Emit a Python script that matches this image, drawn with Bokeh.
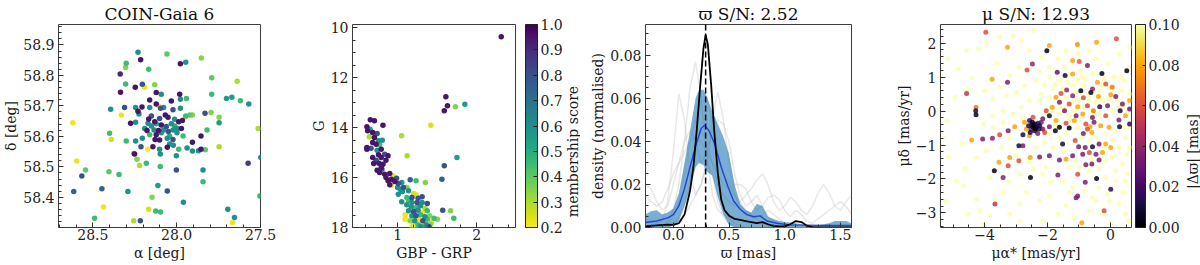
import math
from bokeh.plotting import figure
from bokeh.layouts import row
from bokeh.core.properties import value
from bokeh.models import (Range1d, LinearColorMapper, ColorBar, FixedTicker, SingleIntervalTicker,
                          PrintfTickFormatter, CustomJSTickFormatter, Span, ColumnDataSource)
from bokeh.palettes import Viridis256, Inferno256
from bokeh.embed import file_html
from bokeh.resources import INLINE

# ---------------- Panel 1: sky positions ----------------
ra1 = [28.231, 28.058, 28.215, 28.301, 28.305, 27.946, 27.978, 27.853, 28.167, 28.337,
       27.791, 27.639, 28.305, 28.205, 28.247, 28.191, 28.131, 28.335, 28.122, 28.092,
       27.982, 27.791, 27.703, 27.671, 27.620, 27.570, 27.942, 27.978, 28.394, 28.330,
       28.311, 28.245, 28.207, 28.161, 28.122, 28.161, 28.096, 28.078, 28.106, 28.032,
       28.022, 27.978, 28.231, 28.225, 27.946, 27.922, 27.906, 27.831, 27.795, 27.747,
       27.747, 27.819, 27.948, 28.275, 28.245, 28.167, 28.151, 28.131, 28.102, 28.068,
       28.052, 28.012, 27.988, 27.966, 28.171, 28.151, 28.122, 28.092, 28.062, 28.032,
       28.012, 27.998, 27.972, 28.191, 28.177, 28.135, 28.108, 28.078, 28.050, 28.022,
       27.998, 28.161, 28.122, 28.092, 28.042, 27.962, 28.205, 28.129, 28.102, 28.056,
       28.022, 28.245, 28.301, 28.400, 28.390, 28.213, 28.142, 28.102, 28.056, 28.042,
       28.020, 27.988, 27.938, 27.906, 27.870, 27.855, 27.829, 27.906, 27.855, 28.173,
       28.251, 28.098, 28.002, 28.255, 28.237, 28.221, 28.181, 28.098, 28.002, 27.843,
       27.843, 27.574, 27.498, 28.596, 28.544, 28.566, 28.404, 28.344, 28.620, 28.614,
       28.446, 28.291, 28.112, 28.056, 28.147, 27.960, 28.436, 28.167, 28.125, 28.096,
       28.490, 28.257, 28.217, 27.695, 27.655, 27.667, 27.504, 27.514, 27.747]
dec1 = [58.876, 58.870, 58.851, 58.840, 58.826, 58.843, 58.838, 58.857, 58.820, 58.805,
        58.792, 58.781, 58.772, 58.771, 58.761, 58.761, 58.769, 58.745, 58.744, 58.738,
        58.738, 58.738, 58.724, 58.728, 58.717, 58.706, 58.724, 58.722, 58.689, 58.670,
        58.695, 58.695, 58.696, 58.719, 58.706, 58.695, 58.692, 58.695, 58.699, 58.716,
        58.687, 58.692, 58.682, 58.673, 58.667, 58.670, 58.670, 58.676, 58.678, 58.663,
        58.645, 58.621, 58.663, 58.643, 58.646, 58.657, 58.667, 58.648, 58.659, 58.670,
        58.663, 58.656, 58.648, 58.652, 58.643, 58.634, 58.641, 58.637, 58.632, 58.641,
        58.634, 58.626, 58.626, 58.626, 58.619, 58.621, 58.619, 58.621, 58.616, 58.621,
        58.612, 58.605, 58.605, 58.612, 58.601, 58.601, 58.594, 58.590, 58.588, 58.594,
        58.590, 58.585, 58.585, 58.610, 58.590, 58.566, 58.566, 58.558, 58.564, 58.575,
        58.571, 58.558, 58.562, 58.552, 58.553, 58.558, 58.556, 58.581, 58.601, 58.558,
        58.542, 58.542, 58.536, 58.544, 58.525, 58.504, 58.512, 58.501, 58.490, 58.490,
        58.451, 58.512, 58.531, 58.519, 58.490, 58.470, 58.484, 58.475, 58.645, 58.419,
        58.428, 58.419, 58.439, 58.421, 58.400, 58.384, 58.368, 58.361, 58.355, 58.352,
        58.331, 58.323, 58.323, 58.361, 58.334, 58.317, 58.404, 58.626, 58.566]
score1 = [0.60, 0.40, 0.95, 0.45, 0.35, 0.60, 0.95, 0.35, 0.45, 0.90,
          0.40, 0.30, 0.45, 0.80, 0.95, 0.22, 0.35, 0.95, 0.95, 0.60,
          0.95, 0.45, 0.55, 0.55, 0.45, 0.60, 0.45, 0.60, 0.60, 0.22,
          0.80, 0.60, 0.95, 0.95, 0.95, 0.60, 0.80, 0.60, 0.20, 0.95,
          0.80, 0.60, 0.95, 0.60, 0.45, 0.40, 0.35, 0.80, 0.35, 0.35,
          0.55, 0.45, 0.20, 0.95, 0.60, 0.95, 0.80, 0.95, 0.80, 0.95,
          0.95, 0.60, 0.95, 0.95, 0.60, 0.60, 0.50, 0.95, 0.80, 0.60,
          0.50, 0.60, 0.95, 0.60, 0.95, 0.60, 0.95, 0.60, 0.80, 0.60,
          0.60, 0.45, 0.95, 0.60, 0.50, 0.45, 0.60, 0.95, 0.95, 0.60,
          0.80, 0.60, 0.45, 0.45, 0.25, 0.80, 0.95, 0.60, 0.95, 0.60,
          0.60, 0.45, 0.60, 0.60, 0.60, 0.95, 0.40, 0.95, 0.95, 0.20,
          0.95, 0.60, 0.60, 0.45, 0.35, 0.30, 0.45, 0.45, 0.80, 0.60,
          0.45, 0.85, 0.60, 0.22, 0.40, 0.80, 0.40, 0.45, 0.22, 0.75,
          0.75, 0.60, 0.55, 0.80, 0.35, 0.60, 0.22, 0.25, 0.45, 0.45,
          0.45, 0.30, 0.80, 0.60, 0.60, 0.22, 0.45, 0.30, 0.30]

# ---------------- Panel 2: CMD ----------------
bprp2 = [2.31, 1.61, 1.63, 1.59, 1.73, 1.85, 1.42, 1.05, 1.12, 1.75,
         1.59, 1.56, 1.35, 1.57, 1.67, 1.71, 0.655, 0.707, 0.815, 0.612,
         0.621, 0.651, 0.685, 0.741, 0.707, 0.642, 0.759, 0.806, 0.685, 0.728,
         0.772, 0.612, 0.664, 0.612, 0.741, 0.793, 0.759, 0.836, 0.879, 0.685,
         0.793, 0.728, 0.853, 0.698, 0.763, 0.815, 0.793, 0.741, 0.772, 0.836,
         0.901, 0.944, 0.802, 0.853, 0.922, 0.987, 0.879, 0.965, 1.009, 0.901,
         0.922, 1.052, 1.073, 1.000, 1.034, 1.116, 1.159, 1.233, 1.138, 1.203,
         1.233, 1.009, 1.060, 1.116, 1.181, 1.259, 1.310, 1.052, 1.138, 1.181,
         1.246, 1.116, 1.310, 1.375, 1.172, 1.233, 1.289, 1.345, 1.138, 1.203,
         1.259, 1.319, 1.375, 1.095, 1.181, 1.233, 1.289, 1.345, 1.405, 1.461,
         1.095, 1.159, 1.216, 1.267, 1.319, 1.375, 1.431, 1.203, 1.259, 1.310,
         1.362, 1.418, 1.233, 1.289, 1.345, 1.181, 1.397, 1.504]
gmag2 = [10.37, 12.77, 13.13, 13.33, 13.17, 13.07, 13.91, 14.33, 15.13, 15.20,
         15.53, 16.07, 16.20, 17.31, 17.33, 17.63, 13.69, 13.73, 13.91, 13.97,
         14.13, 14.07, 14.20, 14.24, 14.40, 14.37, 14.53, 14.51, 14.60, 14.67,
         14.69, 14.80, 14.83, 14.87, 14.91, 14.87, 15.09, 15.07, 15.13, 15.20,
         15.20, 15.31, 15.31, 15.44, 15.43, 15.47, 15.60, 15.71, 15.80, 15.87,
         15.84, 15.93, 15.67, 16.00, 16.07, 16.03, 16.13, 16.16, 16.24, 16.29,
         16.31, 16.20, 16.40, 16.40, 16.47, 16.40, 16.09, 16.13, 16.53, 16.64,
         16.69, 16.67, 16.56, 16.80, 16.80, 16.83, 16.77, 16.97, 16.91, 17.00,
         17.00, 17.09, 17.00, 17.04, 17.17, 17.20, 17.13, 17.23, 17.33, 17.36,
         17.31, 17.40, 17.33, 17.49, 17.53, 17.53, 17.49, 17.57, 17.53, 17.63,
         17.67, 17.73, 17.73, 17.67, 17.73, 17.67, 17.76, 17.87, 17.89, 17.84,
         17.89, 17.87, 17.96, 17.96, 17.97, 17.97, 17.97, 17.67]
score2 = [0.95, 0.95, 0.95, 0.95, 0.35, 0.55, 0.25, 0.30, 0.30, 0.55,
          0.80, 0.75, 0.35, 0.80, 0.35, 0.45, 0.95, 0.95, 0.95, 0.95,
          0.95, 0.55, 0.95, 0.80, 0.95, 0.30, 0.60, 0.60, 0.95, 0.95,
          0.45, 0.95, 0.80, 0.95, 0.60, 0.95, 0.95, 0.80, 0.95, 0.95,
          0.95, 0.80, 0.95, 0.95, 0.95, 0.95, 0.95, 0.95, 0.95, 0.95,
          0.95, 0.22, 0.80, 0.95, 0.95, 0.80, 0.95, 0.95, 0.80, 0.95,
          0.22, 0.60, 0.80, 0.60, 0.60, 0.35, 0.75, 0.45, 0.60, 0.25,
          0.22, 0.60, 0.60, 0.45, 0.80, 0.80, 0.80, 0.60, 0.45, 0.60,
          0.80, 0.60, 0.60, 0.80, 0.60, 0.45, 0.60, 0.30, 0.60, 0.80,
          0.60, 0.22, 0.45, 0.22, 0.60, 0.80, 0.45, 0.60, 0.35, 0.45,
          0.22, 0.35, 0.60, 0.22, 0.80, 0.45, 0.22, 0.22, 0.45, 0.22,
          0.60, 0.35, 0.22, 0.60, 0.45, 0.22, 0.80, 0.35]
score_ticks = [0.2, 0.3, 0.4, 0.5, 0.6, 0.7, 0.8, 0.9, 1.0]

# ---------------- Panel 3: parallax densities ----------------
plx_peak = 0.29
plx_k = [-0.25, -0.15, -0.05, 0.0, 0.05, 0.1, 0.15, 0.18, 0.21, 0.24,
         0.27, 0.29, 0.31, 0.34, 0.37, 0.4, 0.43, 0.46, 0.5, 0.55,
         0.6, 0.65, 0.7, 0.75, 0.8, 0.85, 0.9, 0.95, 1.0, 1.05,
         1.1, 1.15, 1.2, 1.25, 1.3, 1.6]
dens_k = [0.0005, 0.001, 0.0013, 0.0012, 0.002, 0.006, 0.017, 0.028, 0.045, 0.065,
          0.083, 0.0895, 0.085, 0.066, 0.043, 0.025, 0.013, 0.008, 0.0055, 0.004,
          0.0035, 0.003, 0.0025, 0.002, 0.0025, 0.0015, 0.0008, 0.0005, 0.0005, 0.0015,
          0.003, 0.0025, 0.0008, 0.0002, 0.0, 0.0]
plx_m = [-0.25, -0.15, -0.05, 0.0, 0.05, 0.1, 0.15, 0.2, 0.25, 0.28,
         0.32, 0.37, 0.43, 0.49, 0.54, 0.6, 0.66, 0.72, 0.78, 0.84,
         0.93, 1.04, 1.34, 1.6]
dens_m = [0.0023, 0.003, 0.0045, 0.006, 0.01, 0.018, 0.028, 0.038, 0.046, 0.0475,
          0.045, 0.039, 0.028, 0.019, 0.0124, 0.0085, 0.006, 0.005, 0.0054, 0.003,
          0.002, 0.0012, 0.001, 0.001]
plx_b = [-0.25, -0.2, -0.15, -0.1, -0.05, 0.0, 0.05, 0.1, 0.15, 0.2,
         0.23, 0.27, 0.3, 0.35, 0.4, 0.45, 0.5, 0.55, 0.6, 0.65,
         0.7, 0.75, 0.8, 0.85, 0.9, 0.95, 1.0, 1.1, 1.2, 1.3,
         1.4, 1.45, 1.5, 1.55, 1.6]
band_hi = [0.006, 0.0075, 0.008, 0.006, 0.007, 0.009, 0.016, 0.03, 0.045, 0.06,
           0.064, 0.064, 0.061, 0.054, 0.048, 0.042, 0.034, 0.02, 0.011, 0.008,
           0.007, 0.011, 0.01, 0.005, 0.004, 0.003, 0.0025, 0.002, 0.001, 0.001,
           0.002, 0.003, 0.003, 0.003, 0.002]
band_lo = [0.0, 0.0, 0.0, 0.0, 0.0, 0.001, 0.003, 0.01, 0.018, 0.028,
           0.03, 0.029, 0.026, 0.024, 0.014, 0.006, 0.001, 0.0, 0.0, 0.0,
           0.0, 0.0, 0.0, 0.0, 0.0, 0.0, 0.0, 0.0, 0.0, 0.0,
           0.0, 0.0, 0.0, 0.0, 0.0]
plx_g = [-0.25, -0.2, -0.15, -0.1, -0.05, 0.0, 0.05, 0.1, 0.15, 0.2,
         0.25, 0.3, 0.35, 0.4, 0.45, 0.5, 0.55, 0.6, 0.65, 0.7,
         0.75, 0.8, 0.85, 0.9, 0.95, 1.0, 1.05, 1.1, 1.15, 1.2,
         1.25, 1.3, 1.35, 1.4, 1.45, 1.5, 1.55, 1.6]
grey1 = [0.004, 0.003, 0.002, 0.003, 0.012, 0.035, 0.062, 0.05, 0.025, 0.015,
         0.02, 0.03, 0.025, 0.012, 0.005, 0.002, 0.001, 0, 0, 0,
         0, 0, 0, 0, 0, 0, 0, 0, 0, 0, 0, 0, 0, 0, 0, 0, 0, 0]
grey2 = [0, 0, 0, 0.001, 0.003, 0.008, 0.02, 0.04, 0.065, 0.077,
         0.06, 0.035, 0.015, 0.008, 0.006, 0.004, 0.002, 0.001, 0, 0,
         0, 0, 0, 0, 0, 0, 0, 0, 0, 0, 0, 0, 0, 0, 0, 0, 0, 0]
grey3 = [0, 0, 0, 0, 0, 0.001, 0.003, 0.006, 0.01, 0.015,
         0.02, 0.03, 0.05, 0.063, 0.05, 0.03, 0.015, 0.01, 0.008, 0.006,
         0.004, 0.002, 0.001, 0, 0, 0, 0, 0, 0, 0, 0, 0, 0, 0, 0, 0, 0, 0]
grey4 = [0.02, 0.018, 0.012, 0.008, 0.01, 0.02, 0.03, 0.04, 0.045, 0.04,
         0.03, 0.035, 0.045, 0.05, 0.048, 0.04, 0.025, 0.015, 0.01, 0.012,
         0.015, 0.01, 0.005, 0.003, 0.002, 0.001, 0, 0, 0, 0, 0, 0, 0, 0, 0, 0, 0, 0]
grey5 = [0, 0, 0, 0, 0, 0.002, 0.005, 0.01, 0.02, 0.035,
         0.045, 0.04, 0.03, 0.02, 0.015, 0.012, 0.01, 0.012, 0.015, 0.018,
         0.022, 0.025, 0.02, 0.012, 0.008, 0.01, 0.014, 0.012, 0.008, 0.006,
         0.01, 0.016, 0.02, 0.016, 0.01, 0.008, 0.012, 0.015]
grey6 = [0.015, 0.012, 0.01, 0.012, 0.018, 0.025, 0.03, 0.035, 0.04, 0.042,
         0.04, 0.035, 0.03, 0.025, 0.02, 0.018, 0.02, 0.02, 0.018, 0.012,
         0.008, 0.01, 0.014, 0.015, 0.013, 0.008, 0.005, 0.008, 0.006, 0.003,
         0.002, 0.004, 0.006, 0.008, 0.01, 0.012, 0.01, 0.006]
grey7 = [0, 0, 0, 0, 0.002, 0.005, 0.012, 0.025, 0.04, 0.05,
         0.058, 0.06, 0.05, 0.035, 0.025, 0.02, 0.015, 0.012, 0.008, 0.005,
         0.004, 0.006, 0.008, 0.006, 0.004, 0.002, 0.001, 0, 0, 0, 0, 0, 0, 0, 0, 0, 0, 0]
grey_curves = [grey1, grey2, grey3, grey4, grey5, grey6, grey7]

# ---------------- Panel 4: proper motions ----------------
pmra4_field = [-4.57, -4.2, -5.16, -4.83, -4.41, -4.55, -4.94, -5.2, -5.3, -4.73,
               -5.15, -4.62, -4.9, -4.67, -4.25, -4.52, -4.15, -3.83, -3.2, -3.67,
               -3.41, -2.88, -2.67, -2.25, -1.94, -1.67, -1.41, -1.15, -0.67, -0.46,
               -0.04, 0.48, 0.59, 0.27, 0.48, 0.38, 0.54, 0.48, 0.61, 0.59,
               0.54, 0.61, 0.43, 0.57, 0.61, 0.27, -0.09, -0.46, -0.67, -1.04,
               -1.41, -1.67, -1.94, -2.2, -2.57, -2.83, -3.09, -2.46, -3.52, -3.94,
               -2.91, -3.2, -3.52, -3.73, -3.3, -2.99, -2.73, -2.36, -2.09, -1.94,
               -1.62, -1.36, -1.04, -0.78, -0.57, -0.2, 0.12, 0.38, 0.22, -0.04,
               -0.25, -0.46, -0.67, -0.99, -1.41, -1.94, -2.25, -2.57, -2.83, -3.09,
               -3.41, -3.73, -4.04, -3.73, -3.41, -3.2, -3.46, -3.94, -4.25, -3.83,
               -3.25, -2.88, -2.46, -2.15, -2.04, -1.83, -2.09, -2.36, -1.62, -1.41,
               -1.94, -1.83, -1.62, -1.31, -0.99, -1.31, -1.04, -0.94, -0.67, -0.46,
               -0.15, 0.06, 0.27, 0.06, -0.15, -0.36, -0.67, -0.99, -1.31, -1.52,
               -1.2, -0.8, -0.36, -0.15, 0.17, 0.17, -0.57, -0.25, 0.01, -2.15,
               -2.88, -4.04, -5.25, -0.57, -0.36, 0.06, 0.38, -0.83, -1.15, -1.41,
               -1.15, -1.52, -1.83, -2.2, -0.36, -0.83, -1.2, -0.04, 0.33, -0.94,
               -1.46, -2.25, -0.5, -0.7, -1.1, -1.6, -1.75, -1.5, -1.1, -0.6,
               -0.2, 0.15, 0.3, 0.1, -0.3, -0.9, -1.3, -1.75, -2.0, -2.8,
               -3.0, -2.6, -1.9, -1.3, -0.1, 0.4, 0.55, 0.45, -3.6, -4.0]
pmdec4_field = [1.78, 1.83, 1.54, 1.24, 0.98, 0.65, 0.41, -0.28, -0.78, -0.97,
                -1.37, -1.71, -2.06, -2.2, -2.6, -3.04, -2.94, -3.09, -3.04, -2.6,
                -2.4, -2.74, -2.4, -2.65, -2.5, -3.04, -2.79, -3.14, -2.94, -2.65,
                -2.65, -3.04, -3.24, -2.74, -2.06, -1.56, -1.27, -0.78, -1.07, -0.48,
                -0.04, 0.5, 0.9, 1.29, 1.88, 1.68, 1.39, 1.54, 1.78, 1.68,
                1.78, 1.54, 1.29, 1.59, 1.78, 2.08, 2.23, 2.37, 2.18, 1.98,
                1.29, 1.05, 0.70, 0.36, 0.45, 0.55, 0.75, 0.9, 0.75, 1.0,
                0.9, 0.85, 0.9, 0.95, 1.09, 0.95, 1.0, 0.6, 0.31, 0.36,
                0.31, 0.26, 0.31, 0.31, 0.41, 0.41, 0.31, 0.31, 0.11, -0.09,
                0.01, -0.14, -0.38, -0.48, -0.33, -0.78, -1.07, -1.17, -1.37, -1.96,
                -2.1, -1.86, -1.71, -1.86, -1.66, -1.07, -0.92, -1.07, -0.78, -0.68,
                -0.68, 0.01, -0.09, -0.14, -0.24, -0.28, -0.48, -0.78, -0.87, -0.78,
                -0.68, -0.87, -1.07, -1.37, -1.46, -1.66, -1.76, -1.66, -1.66, -2.06,
                -2.25, -2.35, -2.25, -1.96, -1.76, -2.06, -2.55, -3.04, -3.29, -3.24,
                -3.24, -3.34, -2.65, 0.01, -0.09, 0.01, -0.48, 0.11, 0.01, 0.11,
                0.31, 0.65, 0.65, 0.5, 0.6, 0.75, 0.75, 0.70, 1.0, 1.19,
                1.29, 1.14, -0.1, 0.45, 0.55, 0.1, -0.4, -1.2, -1.5, -1.45,
                -1.1, -0.6, 0.1, 0.55, 0.75, 1.0, 1.05, 0.8, -0.1, -0.2,
                -1.3, -1.5, -2.1, -2.4, -2.45, -2.4, -1.85, 0.2, 1.4, 0.6]
dplx4_field = [0.15, 0.21, 0.33, 0.12, 0.18, 0.26, 0.41, 0.14, 0.29, 0.17,
               0.36, 0.22, 0.13, 0.19, 0.31, 0.24, 0.16, 0.45, 0.12, 0.27,
               0.18, 0.34, 0.11, 0.23, 0.14, 0.38, 0.2, 0.15, 0.28, 0.13,
               0.17, 0.25, 0.39, 0.12, 0.21, 0.16, 0.3, 0.11, 0.19, 0.14,
               0.13, 0.22, 0.18, 0.35, 0.26, 0.12, 0.15, 0.2, 0.11, 0.17,
               0.24, 0.13, 0.16, 0.31, 0.19, 0.28, 0.42, 0.14, 0.22, 0.33,
               0.12, 0.18, 0.25, 0.11, 0.15, 0.13, 0.2, 0.12, 0.14, 0.16,
               0.11, 0.13, 0.12, 0.15, 0.11, 0.14, 0.17, 0.12, 0.11, 0.13,
               0.12, 0.11, 0.14, 0.12, 0.11, 0.13, 0.15, 0.12, 0.18, 0.14,
               0.22, 0.19, 0.27, 0.16, 0.13, 0.21, 0.17, 0.29, 0.24, 0.15,
               0.18, 0.14, 0.12, 0.16, 0.13, 0.11, 0.12, 0.14, 0.11, 0.12,
               0.13, 0.11, 0.12, 0.11, 0.13, 0.12, 0.11, 0.14, 0.12, 0.11,
               0.13, 0.12, 0.15, 0.11, 0.13, 0.12, 0.14, 0.11, 0.12, 0.17,
               0.15, 0.13, 0.12, 0.11, 0.14, 0.16, 0.19, 0.23, 0.31, 0.26,
               0.28, 0.37, 0.44, 0.11, 0.12, 0.11, 0.13, 0.11, 0.12, 0.11,
               0.12, 0.11, 0.13, 0.14, 0.11, 0.12, 0.11, 0.12, 0.13, 0.11,
               0.12, 0.14, 0.11, 0.12, 0.11, 0.12, 0.13, 0.11, 0.12, 0.11,
               0.12, 0.11, 0.13, 0.12, 0.11, 0.12, 0.11, 0.13, 0.12, 0.14,
               0.16, 0.13, 0.15, 0.14, 0.12, 0.13, 0.12, 0.11, 0.21, 0.19]
pmra4_memb = [-3.96, -3.27, -1.94, -2.02, -1.05, -0.44, 0.19, -1.2, -0.99, -0.73,
              -0.27, 0.52, -1.69, -1.44, -1.2, -2.48, -2.65, -3.27, -3.76, -4.57,
              -4.27, -4.28, -4.27, -0.41, 0.06, -0.15, -0.57, -0.94, -0.62, -1.39,
              -1.57, -1.73, -1.2, -0.86, -0.38, 0.01, 0.17, 0.61, -0.09, -0.34,
              0.38, 0.61, 0.31, -0.54, -0.73, -1.04, -1.31, -1.62, -1.85, -2.04,
              -1.46, -1.09, -0.88, -0.57, -0.15, 0.27, 0.48, 0.61, -1.94, -2.15,
              -1.73, -1.41, -1.15, -0.78, -0.65, -0.52, -0.31, -0.04, 0.29, -0.73,
              -0.59, -0.86, -1.31, -1.62, -1.94, -1.75, -2.57, -2.48, -2.41, -2.34,
              -2.25, -2.46, -2.36, -2.52, -2.27, -2.41, -2.2, -2.6, -2.67, -2.55,
              -2.15, -2.09, -2.31, -2.46, -2.73, -2.44, -2.30, -2.38, -2.50, -3.04,
              -3.25, -3.52, -3.75, -4.06, -4.41, -2.78, -2.57, -2.78, -2.91, -1.52,
              -1.12, -1.01, -0.80, -0.57, -0.36, -0.15, 0.01, -0.25, -0.46, -0.67,
              -0.88, -1.2, -1.41, -1.62, -1.94, -2.25, -2.55, -2.91, -3.25, -3.2,
              -3.54, -3.69, -3.41, -2.54, -1.67, -1.04, -0.78, -0.59, -0.36, -0.44,
              -0.80, 0.01, -1.09, -1.04, -3.67, -0.2, -0.91]
pmdec4_memb = [2.32, 1.88, 1.93, 1.78, 1.96, 2.03, 2.13, 1.49, 1.46, 1.34,
               1.11, 1.19, 1.14, 1.05, 1.09, 1.39, 1.21, 0.85, 0.94, 0.52,
               0.11, 0.01, -0.11, 0.85, 0.70, 0.80, 0.65, 0.60, 0.55, 0.62,
               0.52, 0.41, 0.45, 0.39, 0.43, 0.48, 0.43, 0.31, 0.16, 0.13,
               0.21, 0.06, 0.01, 0.01, 0.16, 0.13, 0.21, 0.26, 0.11, 0.01,
               0.01, -0.14, -0.09, -0.19, -0.14, -0.26, -0.14, -0.38, -0.14, -0.23,
               -0.28, -0.36, -0.28, -0.38, -0.46, -0.33, -0.43, -0.48, -0.46, -0.53,
               -0.63, -0.66, -0.50, -0.48, -0.46, -0.58, -0.28, -0.33, -0.38, -0.40,
               -0.43, -0.46, -0.48, -0.53, -0.53, -0.58, -0.33, -0.43, -0.53, -0.63,
               -0.53, -0.63, -0.66, -0.18, -0.33, -0.42, -0.36, -0.52, -0.40, -0.46,
               -0.58, -0.70, -0.80, -0.82, -0.85, -0.70, -0.73, -1.02, -1.02, -0.97,
               -0.87, -1.05, -1.07, -1.05, -0.97, -0.97, -1.07, -1.22, -1.27, -1.22,
               -1.27, -1.32, -1.42, -1.44, -1.32, -1.35, -1.37, -1.46, -1.61, -1.37,
               -1.51, -1.76, -1.96, -1.96, -1.88, -1.86, -1.58, -1.56, -1.44, -1.99,
               -2.10, -2.30, -2.55, -2.50, -2.74, -2.94, -3.29]
dplx4_memb = [0.06, 0.08, 0.08, 0.003, 0.075, 0.08, 0.06, 0.08, 0.065, 0.035,
              0.003, 0.003, 0.03, 0.01, 0.08, 0.04, 0.06, 0.035, 0.08, 0.05,
              0.07, 0.01, 0.005, 0.08, 0.07, 0.06, 0.04, 0.003, 0.003, 0.04,
              0.06, 0.08, 0.04, 0.06, 0.08, 0.08, 0.035, 0.08, 0.035, 0.015,
              0.035, 0.03, 0.01, 0.07, 0.055, 0.08, 0.06, 0.035, 0.08, 0.06,
              0.035, 0.035, 0.08, 0.035, 0.06, 0.035, 0.08, 0.015, 0.01, 0.035,
              0.08, 0.06, 0.08, 0.06, 0.08, 0.035, 0.08, 0.08, 0.01, 0.06,
              0.08, 0.035, 0.003, 0.003, 0.035, 0.003, 0.015, 0.003, 0.01, 0.03,
              0.01, 0.003, 0.015, 0.03, 0.01, 0.01, 0.035, 0.01, 0.08, 0.01,
              0.035, 0.06, 0.035, 0.06, 0.08, 0.02, 0.02, 0.005, 0.025, 0.08,
              0.035, 0.06, 0.04, 0.035, 0.08, 0.01, 0.08, 0.035, 0.01, 0.01,
              0.06, 0.035, 0.035, 0.01, 0.035, 0.08, 0.08, 0.08, 0.035, 0.06,
              0.035, 0.035, 0.08, 0.035, 0.035, 0.035, 0.08, 0.06, 0.06, 0.08,
              0.08, 0.003, 0.035, 0.003, 0.035, 0.06, 0.035, 0.035, 0.035, 0.003,
              0.035, 0.015, 0.035, 0.035, 0.05, 0.06, 0.08]
dplx_ticks = [0.0, 0.02, 0.04, 0.06, 0.08, 0.10]

# ---------------- layout / style ----------------
FONT = "DejaVu Serif, Liberation Serif, serif"
FH = 203          # frame height
TOP = 24
BOTTOM = 37
TOTAL_H = TOP + FH + BOTTOM


def make_fig(fw, left, right, xr, yr, title=None):
    kw = dict(frame_width=fw, frame_height=FH, x_range=xr, y_range=yr, output_backend="svg",
              toolbar_location=None, min_border_left=left, min_border_right=right,
              min_border_top=TOP, min_border_bottom=BOTTOM)
    if title is not None:
        kw["title"] = title
    p = figure(**kw)
    p.xgrid.visible = False
    p.ygrid.visible = False
    p.outline_line_color = "#3c3c3c"
    p.outline_line_width = 1
    p.background_fill_color = "white"
    p.border_fill_color = "white"
    if title is not None:
        p.title.text_font = FONT
        p.title.text_font_size = "17px"
        p.title.text_font_style = "normal"
        p.title.text_color = "#111111"
        p.title.align = "center"
        p.title.standoff = 2
    return p


def style_axes(p, xlabel, ylabel, xtick, ytick, xfmt, yfmt):
    p.xaxis.axis_label = xlabel
    p.yaxis.axis_label = ylabel
    p.xaxis.ticker = xtick
    p.yaxis.ticker = ytick
    p.xaxis.formatter = xfmt
    p.yaxis.formatter = yfmt
    for ax in (p.xaxis, p.yaxis):
        ax.axis_line_color = None
        ax.major_tick_in = 5
        ax.major_tick_out = 0
        ax.minor_tick_in = 3
        ax.minor_tick_out = 0
        ax.major_tick_line_color = "#333333"
        ax.minor_tick_line_color = "#333333"
        ax.major_label_text_font = FONT
        ax.major_label_text_font_size = "14px"
        ax.major_label_text_color = "#222222"
        ax.axis_label_text_font = FONT
        ax.axis_label_text_font_size = "14px"
        ax.axis_label_text_font_style = "normal"
        ax.axis_label_text_color = "#1a1a1a"
    p.xaxis.major_label_standoff = 1
    p.xaxis.axis_label_standoff = 2
    p.yaxis.major_label_standoff = 4
    p.yaxis.axis_label_standoff = 1


def label_strip(width, x_center, y_center, text):
    # narrow figure that only carries a rotated colour-bar label (reads bottom to top)
    f = figure(frame_width=width, frame_height=TOTAL_H, x_range=Range1d(0, width),
               y_range=Range1d(0, TOTAL_H), output_backend="svg", toolbar_location=None,
               x_axis_location=None, y_axis_location=None, min_border=0,
               min_border_left=0, min_border_right=0, min_border_top=0, min_border_bottom=0)
    f.outline_line_color = None
    f.grid.visible = False
    f.background_fill_color = "white"
    f.border_fill_color = "white"
    f.text(x=[x_center], y=[TOTAL_H - y_center], text=[text], angle=math.pi / 2,
           text_align="center", text_baseline="middle", text_font=value(FONT),
           text_font_size=value("14px"), text_color="#1a1a1a")
    return f


def minus_formatter():
    return CustomJSTickFormatter(code="return (tick < 0 ? '\u2212' : '') + Math.abs(tick).toFixed(0);")


# Panel 1  (x: 0..300)
FW1 = 202
p1 = make_fig(FW1, 56, 42, Range1d(28.705, 27.5), Range1d(58.301, 58.967), "COIN-Gaia 6")
style_axes(p1, "α [deg]", "δ [deg]",
           SingleIntervalTicker(interval=0.5, num_minor_ticks=5),
           SingleIntervalTicker(interval=0.1, num_minor_ticks=5),
           PrintfTickFormatter(format="%.1f"), PrintfTickFormatter(format="%.1f"))
cm_score = LinearColorMapper(palette=list(reversed(Viridis256)), low=0.2, high=1.0)
o1 = sorted(range(len(ra1)), key=lambda i: score1[i])
src1 = ColumnDataSource(dict(x=[ra1[i] for i in o1], y=[dec1[i] for i in o1], c=[score1[i] for i in o1]))
p1.scatter("x", "y", source=src1, size=5.5, fill_color={"field": "c", "transform": cm_score},
           line_color=None)

# Panel 2  (x: 300..562) + label strip (562..578)
FW2 = 163
p2 = make_fig(FW2, 50, 49, Range1d(0.43, 2.49), Range1d(18.0, 9.88))
style_axes(p2, "GBP - GRP", "G",
           SingleIntervalTicker(interval=1, num_minor_ticks=5),
           SingleIntervalTicker(interval=2, num_minor_ticks=4),
           PrintfTickFormatter(format="%d"), PrintfTickFormatter(format="%d"))
o2 = sorted(range(len(bprp2)), key=lambda i: score2[i])
src2 = ColumnDataSource(dict(x=[bprp2[i] for i in o2], y=[gmag2[i] for i in o2], c=[score2[i] for i in o2]))
p2.scatter("x", "y", source=src2, size=5.5, fill_color={"field": "c", "transform": cm_score},
           line_color=None)
cb2 = ColorBar(color_mapper=cm_score, ticker=FixedTicker(ticks=score_ticks),
               formatter=PrintfTickFormatter(format="%.1f"), width=12, height=FH,
               location=(FW2 + 10, 0), padding=0, margin=0,
               label_standoff=3, major_label_text_font=FONT, major_label_text_font_size="14px",
               major_label_text_color="#222222",
               major_tick_line_color="#222222", major_tick_in=4, major_tick_out=0,
               minor_tick_line_color=None, bar_line_color="#222222",
               border_line_color=None, background_fill_alpha=0)
p2.add_layout(cb2)
lab2 = label_strip(16, 8, 127, "membership score")

# Panel 3  (x: 578..890)
FW3 = 206
p3 = make_fig(FW3, 65, 41, Range1d(-0.25, 1.6), Range1d(0.0, 0.0943), "ϖ S/N: 2.52")
style_axes(p3, "ϖ [mas]", "density (normalised)",
           SingleIntervalTicker(interval=0.5, num_minor_ticks=5),
           SingleIntervalTicker(interval=0.02, num_minor_ticks=4),
           PrintfTickFormatter(format="%.1f"), PrintfTickFormatter(format="%.2f"))
for gc in grey_curves:
    p3.line(plx_g, gc, line_color="#bdbdbd", line_alpha=0.35, line_width=1.5)
p3.varea(x=plx_b, y1=band_lo, y2=band_hi, fill_color="#1f77b4", fill_alpha=0.6)
p3.line(plx_m, dens_m, line_color="#1f45d6", line_width=1.4)
p3.line(plx_k, dens_k, line_color="black", line_width=1.8)
p3.add_layout(Span(location=plx_peak, dimension="height", line_color="black",
                   line_dash="6 3", line_width=1.5))

# Panel 4  (x: 890..1180) + label strip (1180..1200)
FW4 = 191
p4 = make_fig(FW4, 47, 51, Range1d(-5.4, 0.67), Range1d(-3.43, 2.55), "μ S/N: 12.93")
style_axes(p4, "μα* [mas/yr]", "μδ [mas/yr]",
           SingleIntervalTicker(interval=2, num_minor_ticks=4),
           SingleIntervalTicker(interval=1, num_minor_ticks=5),
           minus_formatter(), minus_formatter())
cm_plx = LinearColorMapper(palette=Inferno256, low=0.0, high=0.1)
src4a = ColumnDataSource(dict(x=pmra4_field, y=pmdec4_field, c=dplx4_field))
p4.scatter("x", "y", source=src4a, size=5, fill_color={"field": "c", "transform": cm_plx},
           line_color=None, fill_alpha=0.75)
o4 = sorted(range(len(pmra4_memb)), key=lambda i: -dplx4_memb[i])
src4b = ColumnDataSource(dict(x=[pmra4_memb[i] for i in o4], y=[pmdec4_memb[i] for i in o4],
                              c=[dplx4_memb[i] for i in o4]))
p4.scatter("x", "y", source=src4b, size=5, fill_color={"field": "c", "transform": cm_plx},
           line_color=None, fill_alpha=0.85)
cb4 = ColorBar(color_mapper=cm_plx, ticker=FixedTicker(ticks=dplx_ticks),
               formatter=PrintfTickFormatter(format="%.2f"), width=10, height=FH,
               location=(FW4 + 4, 0), padding=0, margin=0,
               label_standoff=3, major_label_text_font=FONT, major_label_text_font_size="14px",
               major_label_text_color="#222222",
               major_tick_line_color="#222222", major_tick_in=3, major_tick_out=0,
               minor_tick_line_color=None, bar_line_color="#222222",
               border_line_color=None, background_fill_alpha=0)
p4.add_layout(cb4)
lab4 = label_strip(21, 10, 127, "|Δϖ| [mas]")

layout = row(p1, p2, lab2, p3, p4, lab4)
with open("out.html", "w", encoding="utf-8") as f:
    f.write(file_html(layout, INLINE))
